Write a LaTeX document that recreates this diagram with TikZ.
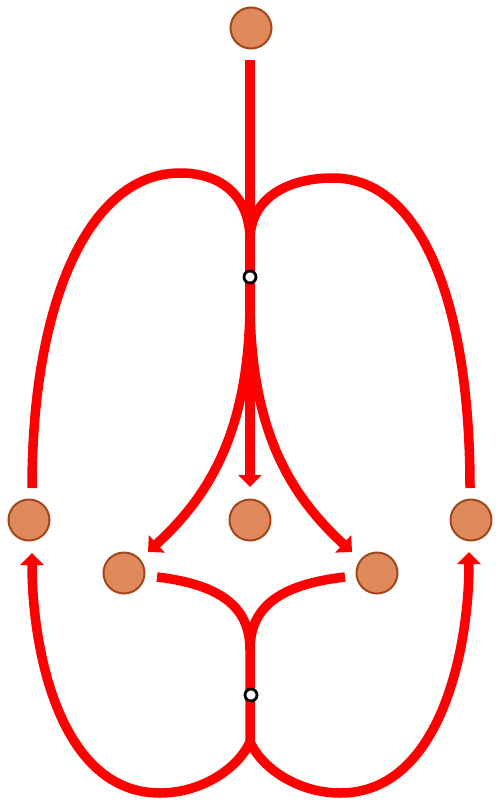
\documentclass[tikz,border=0pt]{standalone}
\usetikzlibrary{arrows.meta}
\definecolor{nodefill}{RGB}{224,137,92}
\definecolor{nodeedge}{RGB}{160,72,28}
\tikzset{
  vnode/.style={circle,fill=nodefill,draw=nodeedge,line width=2pt,minimum size=41pt,inner sep=0pt},
  junc/.style={circle,fill=white,draw=black,line width=2.8pt,minimum size=12pt,inner sep=0pt},
  edge/.style={draw=red,line width=9.5pt,line cap=butt},
  tip/.style={-{Triangle[width=23pt,length=12pt]}}
}
\begin{document}
\begin{tikzpicture}[x=1pt,y=-1pt]
\useasboundingbox (0,0) rectangle (502,803);
% vertices
\node[vnode] (top) at (251,28) {};
\node[vnode] (left) at (29,520) {};
\node[vnode] (mid) at (250,520) {};
\node[vnode] (right) at (471,520) {};
\node[vnode] (ll) at (124,573) {};
\node[vnode] (lr) at (377,573) {};
% connector ends and junctions
\coordinate (s0) at (250,60);
\coordinate (ja) at (250,240);
\coordinate (jb) at (250,300);
\coordinate (lend) at (32,488);
\coordinate (rend) at (470,488);
\coordinate (midtip) at (250,487);
\coordinate (lltip) at (148,552);
\coordinate (lrtip) at (352,552);
\coordinate (lls) at (157,577);
\coordinate (lrs) at (345,577);
\coordinate (jc) at (250,650);
\coordinate (jd) at (250,742);
\coordinate (lefttip) at (32,553);
\coordinate (righttip) at (469,552);
% upper hyperedge
\draw[edge,tip] (s0) -- (midtip);
\draw[edge] (ja) .. controls (250,200) and (225,173) .. (180,173)
                 .. controls (90,173) and (32,300) .. (lend);
\draw[edge] (ja) .. controls (250,200) and (285,178) .. (333,178)
                 .. controls (420,178) and (470,300) .. (rend);
\draw[edge,tip] (jb) .. controls (250,430) and (210,495) .. (lltip);
\draw[edge,tip] (jb) .. controls (250,430) and (290,495) .. (lrtip);
% lower hyperedge
\draw[edge] (lls) .. controls (225,585) and (250,610) .. (jc) -- (jd);
\draw[edge] (lrs) .. controls (275,585) and (250,610) .. (jc);
\draw[edge,tip] (jd) .. controls (237,770) and (200,793) .. (160,793)
                 .. controls (60,793) and (32,650) .. (lefttip);
\draw[edge,tip] (jd) .. controls (263,770) and (300,793) .. (340,793)
                 .. controls (440,793) and (469,650) .. (righttip);
% junction markers
\node[junc] (j1) at (250,277) {};
\node[junc] (j2) at (251,695) {};
\end{tikzpicture}
\end{document}
